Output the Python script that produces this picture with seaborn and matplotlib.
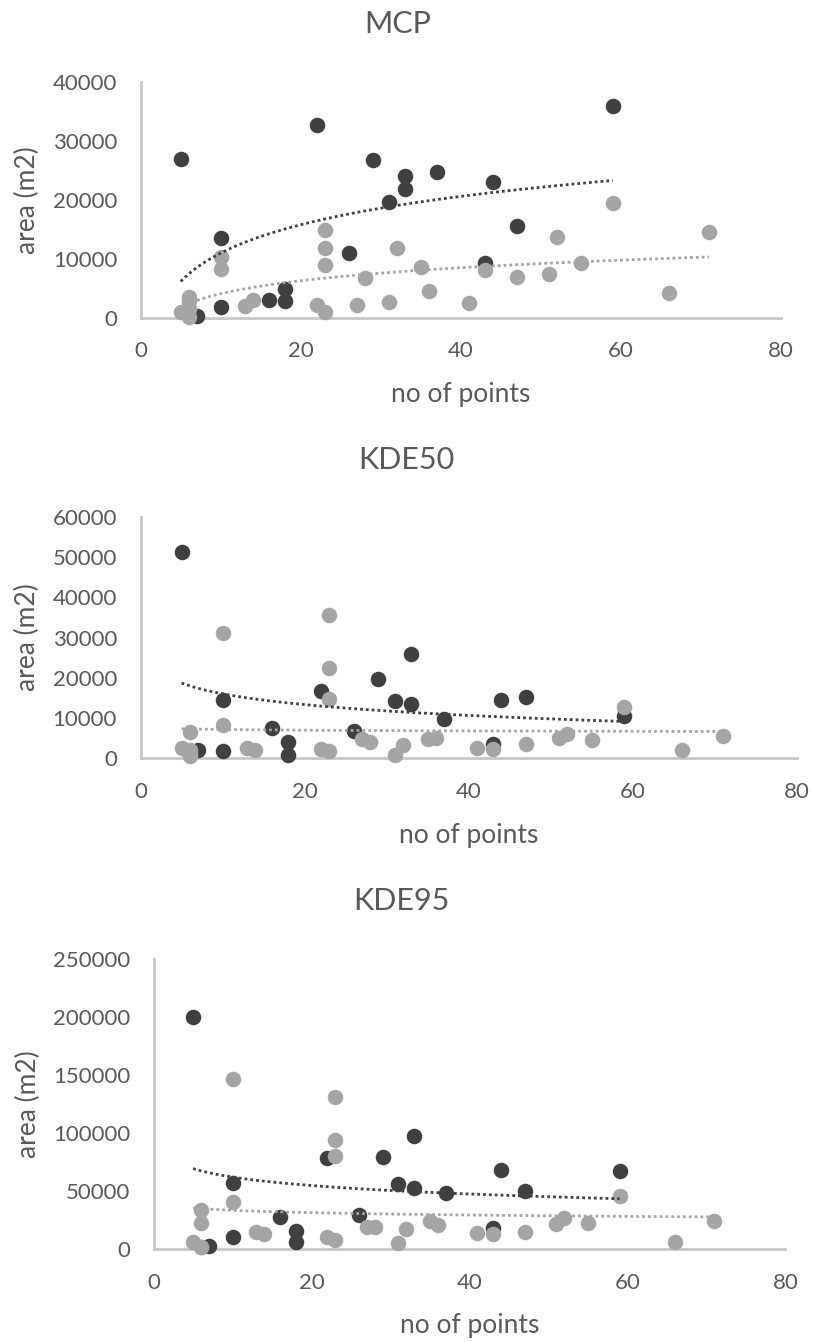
import numpy as np
import pandas as pd
import matplotlib
matplotlib.use("Agg")
import matplotlib.pyplot as plt
import seaborn as sns

# ---------------- data ----------------
dark_x = [5, 7, 10, 10, 16, 18, 18, 22, 26, 29, 31, 33, 33, 37, 43, 44, 47, 59]
light_x = [5, 6, 6, 6, 6, 10, 10, 13, 14, 22, 23, 23, 23, 23, 27, 28, 31, 32, 35, 36,
           41, 43, 47, 51, 52, 55, 59, 66, 71]

mcp_dark = [27000, 300, 13500, 1700, 3000, 4800, 2800, 32700, 10900, 26800, 19700,
            24000, 21900, 24700, 9300, 23000, 15600, 36000]
mcp_light = [900, 3400, 2800, 1500, 100, 10200, 8200, 2000, 3000, 2200, 14900, 11800,
             9000, 900, 2200, 6700, 2600, 11800, 8500, 4500, 2500, 8000, 6900, 7400,
             13700, 9300, 19500, 4100, 14500]

kde50_dark = [51300, 2100, 14500, 1700, 7500, 4000, 800, 16700, 6600, 19600, 14100,
              25800, 13400, 9700, 3500, 14500, 15100, 10500]
kde50_light = [2500, 6400, 2000, 1000, 500, 31000, 8300, 2500, 2100, 2300, 35600,
               22500, 14700, 1700, 4700, 4000, 800, 3300, 4800, 5100, 2500, 2200, 3500,
               5100, 6000, 4400, 12800, 2000, 5500]

kde95_dark = [200000, 3000, 57000, 10000, 27500, 15300, 6000, 78000, 29000, 79000,
              56000, 97000, 52600, 48500, 18500, 68000, 50000, 67000]
kde95_light = [6000, 34000, 22000, 1500, 1500, 146000, 40500, 14500, 13000, 10000,
               131000, 94000, 80000, 8000, 19000, 19000, 5500, 17500, 24500, 21000,
               13500, 13000, 14500, 21500, 27000, 22000, 45500, 6000, 24500]

titles = ["MCP", "KDE50", "KDE95"]
y_max = [40000, 60000, 250000]
y_step = [10000, 10000, 50000]
x_ticks = [0, 20, 40, 60, 80]
x_label = "no of points"
y_label = "area (m2)"

# ---------------- style ----------------
sns.set_style("white")
plt.rcParams["font.family"] = ["Lato", "DejaVu Sans"]

W, H = 814, 1342
DARK = "#404040"
LIGHT = "#a5a5a5"
TXT = "#595959"
AXC = "#c8c8c8"

fig = plt.figure(figsize=(W / 100, H / 100), dpi=100)

# axes boxes in pixels: left, right(x=80), top(ymax), bottom(0)
boxes = [(140.7, 781.0, 82.0, 317.5),
         (140.6, 796.5, 517.0, 758.0),
         (153.6, 785.5, 958.7, 1249.0)]
title_pos = [(398, 24), (406, 460), (401, 901)]
ylab_x = [27, 27, 28]

panels = [(mcp_dark, mcp_light), (kde50_dark, kde50_light), (kde95_dark, kde95_light)]


def log_fit(xs, ys):
    xs = np.asarray(xs, float)
    ys = np.asarray(ys, float)
    b, a = np.polyfit(np.log(xs), ys, 1)
    xx = np.linspace(xs.min(), xs.max(), 200)
    return pd.DataFrame({"x": xx, "y": a + b * np.log(xx)})


for i, ((dy, ly), (l, r, t, b)) in enumerate(zip(panels, boxes)):
    ax = fig.add_axes([l / W, 1 - b / H, (r - l) / W, (b - t) / H])
    ddf = pd.DataFrame({"x": dark_x, "y": dy})
    ldf = pd.DataFrame({"x": light_x, "y": ly})
    sns.scatterplot(data=ddf, x="x", y="y", ax=ax, color=DARK, s=125,
                    linewidth=0, zorder=3, clip_on=False)
    sns.scatterplot(data=ldf, x="x", y="y", ax=ax, color=LIGHT, s=125,
                    linewidth=0, zorder=4, clip_on=False)
    dfit = log_fit(dark_x, dy)
    lfit = log_fit(light_x, ly)
    sns.lineplot(data=dfit, x="x", y="y", ax=ax, color=DARK, linewidth=2.0,
                 linestyle=(0, (1, 1.1)), dash_capstyle="butt", zorder=5,
                 estimator=None, sort=False)
    sns.lineplot(data=lfit, x="x", y="y", ax=ax, color=LIGHT, linewidth=2.0,
                 linestyle=(0, (1, 1.1)), dash_capstyle="butt", zorder=5,
                 estimator=None, sort=False)

    ax.set_xlim(0, 80)
    ax.set_ylim(0, y_max[i])
    ax.set_xticks(x_ticks)
    ax.set_yticks(np.arange(0, y_max[i] + 1, y_step[i]))
    ax.set_xlabel("")
    ax.set_ylabel("")
    ax.tick_params(axis="both", length=0, labelsize=16, labelcolor=TXT)
    ax.tick_params(axis="x", pad=17)
    ax.tick_params(axis="y", pad=17)
    for s in ["top", "right"]:
        ax.spines[s].set_visible(False)
    for s in ["left", "bottom"]:
        ax.spines[s].set_color(AXC)
        ax.spines[s].set_linewidth(2.0)
    ax.set_facecolor("white")

    tx, ty = title_pos[i]
    fig.text(tx / W, 1 - ty / H, titles[i], ha="center", va="center",
             fontsize=22, color=TXT)
    fig.text(ylab_x[i] / W, 1 - ((t + b) / 2) / H, y_label, rotation=90,
             ha="center", va="center", fontsize=19, color=TXT)
    fig.text(((l + r) / 2) / W, 1 - (b + 77) / H, x_label, ha="center",
             va="center", fontsize=19, color=TXT)

fig.savefig("out.png", dpi=100, facecolor="white")
